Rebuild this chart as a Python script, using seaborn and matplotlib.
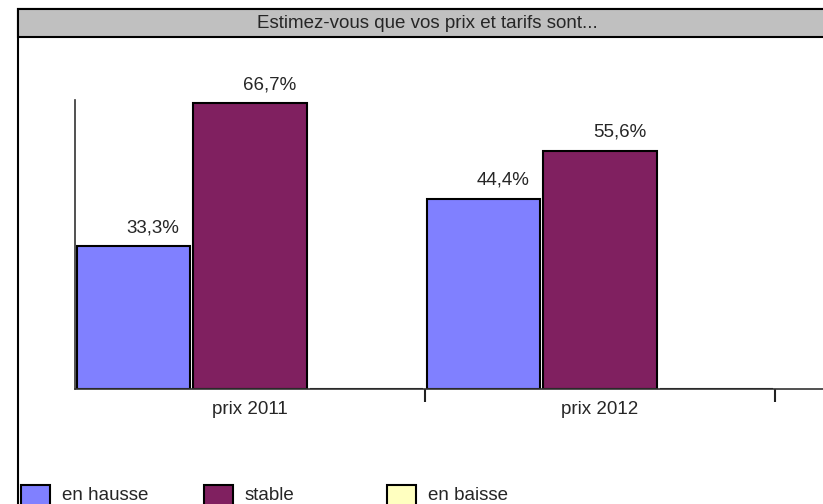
import pandas as pd
import matplotlib.pyplot as plt
from matplotlib.patches import Rectangle
import seaborn as sns

categories = ['prix 2011', 'prix 2012']
series = ['en hausse', 'stable', 'en baisse']
en_hausse = [33.3, 44.4]
stable = [66.7, 55.6]
en_baisse = [0.0, 0.0]
colors = ['#8080FF', '#802060', '#FFFFC0']
title = 'Estimez-vous que vos prix et tarifs sont...'

sns.set_style('white')
plt.rcParams['font.family'] = ['Liberation Sans', 'DejaVu Sans']

W, H = 823, 504
FS = 13.5
fig = plt.figure(figsize=(W / 100, H / 100), dpi=100)


def fx(px):
    return px / W


def fy(py):
    return 1 - py / H


# outer frame and grey title band
fig.patches.append(Rectangle((fx(18), fy(530)), fx(840) - fx(18), fy(9) - fy(530),
                             transform=fig.transFigure, fill=False,
                             edgecolor='black', linewidth=1.5, zorder=0))
fig.patches.append(Rectangle((fx(18), fy(37)), fx(840) - fx(18), fy(9) - fy(37),
                             transform=fig.transFigure, facecolor='#C0C0C0',
                             edgecolor='black', linewidth=1.5, zorder=0))
fig.text(fx(427), fy(23), title, ha='center', va='center', fontsize=FS)

ax = fig.add_axes([fx(75), fy(389), fx(W) - fx(75), fy(100) - fy(389)])

df = pd.DataFrame({
    'categorie': categories * 3,
    'serie': [s for s in series for _ in categories],
    'valeur': en_hausse + stable + en_baisse,
})

sns.barplot(data=df, x='categorie', y='valeur', hue='serie', hue_order=series,
            palette=colors, saturation=1, width=1.0, gap=0.026, edgecolor='black',
            linewidth=1.5, legend=False, ax=ax)

for cont in ax.containers:
    for bar in cont:
        h = bar.get_height()
        if h <= 0:
            continue
        ax.annotate(f'{h:.1f}%'.replace('.', ','),
                    (bar.get_x() + bar.get_width() / 2, h),
                    xytext=(14, 7), textcoords='offset points',
                    ha='center', va='bottom', fontsize=FS)

ax.set_xlim(-0.5, -0.5 + (W - 75) / 350)
ax.set_ylim(0, 67.4)
ax.set_xlabel('')
ax.set_ylabel('')
ax.set_yticks([])
ax.set_xticks(range(len(categories)))
ax.set_xticklabels(categories, fontsize=FS)
ax.set_xticks([i + 0.5 for i in range(len(categories))], minor=True)
ax.tick_params(axis='x', which='major', length=0, pad=9)
ax.tick_params(axis='x', which='minor', length=9.5, width=1.5, direction='out',
               color='#222222', bottom=True)
ax.spines['top'].set_visible(False)
ax.spines['right'].set_visible(False)
for side in ['left', 'bottom']:
    ax.spines[side].set_color('#333333')
    ax.spines[side].set_linewidth(1.2)
ax.patch.set_alpha(0)

# legend drawn along the bottom edge
for i, (name, col) in enumerate(zip(series, colors)):
    x0 = 21 + 183 * i
    fig.patches.append(Rectangle((fx(x0), fy(515)), fx(29), fy(485) - fy(515),
                                 transform=fig.transFigure, facecolor=col,
                                 edgecolor='black', linewidth=1.5))
    fig.text(fx(x0 + 41), fy(496), name, ha='left', va='center', fontsize=FS)

fig.savefig('out.png', dpi=100)
